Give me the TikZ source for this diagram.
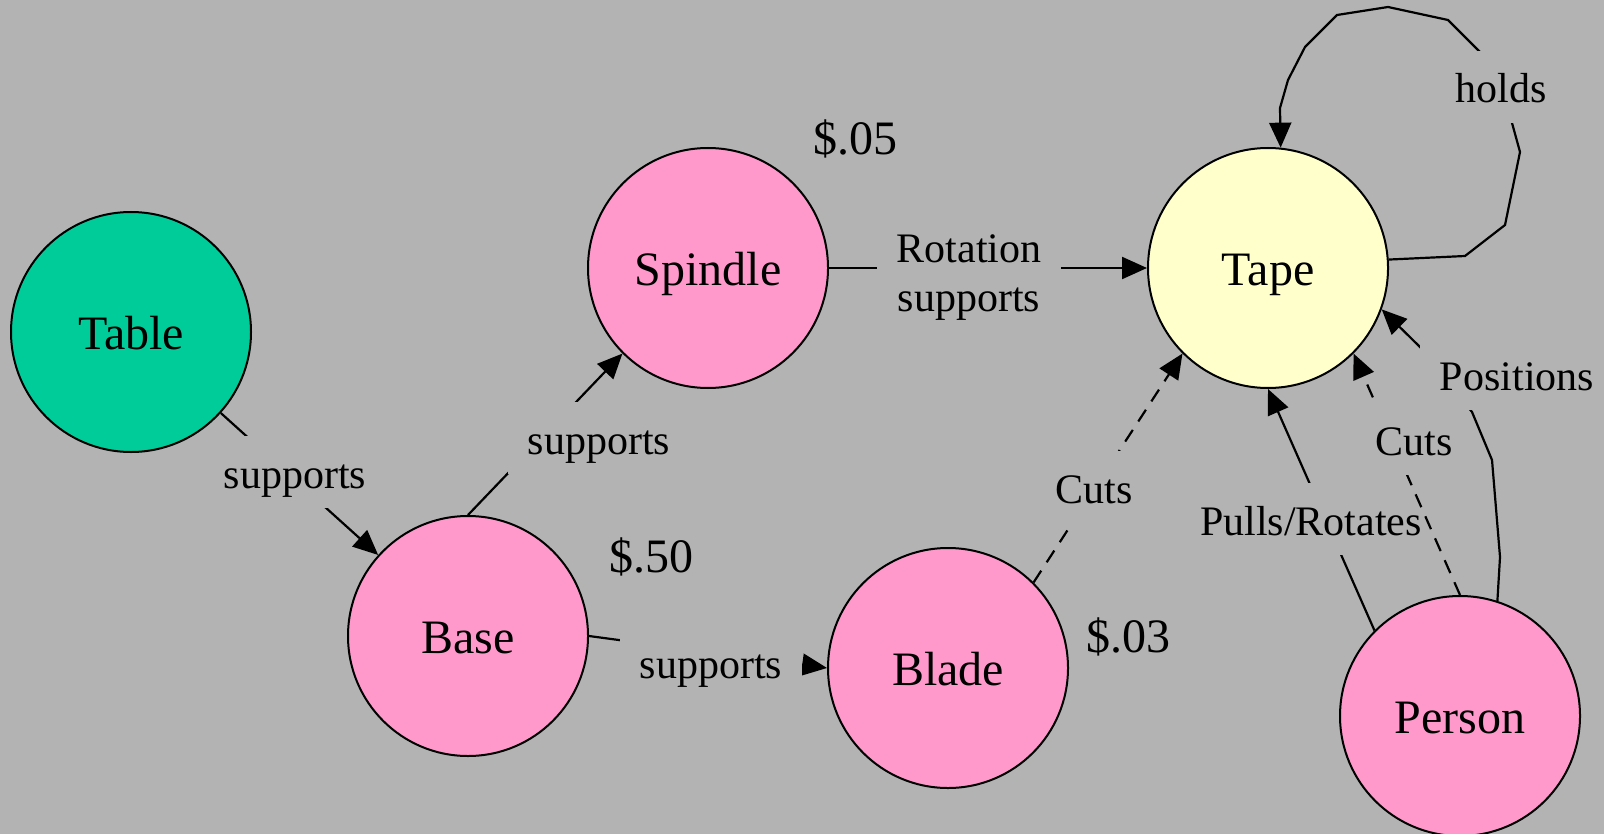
\documentclass[tikz,border=0pt]{standalone}
\usepackage{fontspec}
\setmainfont{Liberation Serif}
\usetikzlibrary{arrows.meta}
\definecolor{bgcol}{HTML}{B3B3B3}
\definecolor{tablecol}{HTML}{00CC99}
\definecolor{pinkcol}{HTML}{FF99CC}
\definecolor{tapecol}{HTML}{FFFFCC}
\begin{document}
\begin{tikzpicture}[x=0.5pt,y=-0.5pt,
  ent/.style={circle, draw=black, line width=1pt, minimum size=120pt, inner sep=0pt,
    font=\fontsize{24}{28}\selectfont, text height=17pt, text depth=0pt},
  edge/.style={line width=1.1pt, draw=black},
  arr/.style={-{Triangle[length=12.5pt,width=11pt]}},
  dsh/.style={dash pattern=on 7pt off 5pt},
  elabel/.style={fill=bgcol, inner xsep=10pt, inner ysep=5pt,
    font=\fontsize{21}{24.5}\selectfont, text height=21pt, text depth=5pt, anchor=base},
  cost/.style={font=\fontsize{24}{28}\selectfont, anchor=base}
]
\useasboundingbox (0,0) rectangle (1604,834);
\fill[bgcol] (0,0) rectangle (1604,834);

% entities
\node[ent, fill=tablecol] (table) at (131,332) {Table};
\node[ent, fill=pinkcol] (spindle) at (708,268) {Spindle};
\node[ent, fill=pinkcol] (base) at (468,636) {Base};
\node[ent, fill=pinkcol] (blade) at (948,668) {Blade};
\node[ent, fill=tapecol] (tape) at (1268,268) {Tape};
\node[ent, fill=pinkcol] (person) at (1460,716) {Person};

% costs
\node[cost] (c05) at (855,155) {\$.05};
\node[cost] (c50) at (651,572) {\$.50};
\node[cost] (c03) at (1128,652) {\$.03};

% bend points
\coordinate (q1) at (1500,557);
\coordinate (q2) at (1492,460);
\coordinate (q3) at (1472,412);
\coordinate (q4) at (1420,347);
\coordinate (h1) at (1465,256);
\coordinate (h2) at (1505,225);
\coordinate (h3) at (1520,152);
\coordinate (h4) at (1512,123);
\coordinate (h5) at (1480,52);
\coordinate (h6) at (1448,20);
\coordinate (h7) at (1388,7);
\coordinate (h8) at (1337,15);
\coordinate (h9) at (1305,47);
\coordinate (h10) at (1288,80);
\coordinate (h11) at (1280,108);

% connectors
\draw[edge,arr] (table) -- (base);
\draw[edge,arr] (base.north) -- (spindle.225);
\draw[edge,arr] (spindle) -- (tape);
\draw[edge,arr] (base.east) -- (blade.west);
\draw[edge,arr,dsh] (blade.45) -- (tape.225);
\draw[edge,arr] (person.135) -- (tape.south);
\draw[edge,arr] (person.72) -- (q1) -- (q2) -- (q3) -- (q4) -- (tape.340);
\draw[edge,arr] (tape.4) -- (h1) -- (h2) -- (h3) -- (h4) -- (h5) -- (h6) -- (h7)
  -- (h8) -- (h9) -- (h10) -- (h11) -- (tape.84);

% connector labels
\node[elabel] (l1) at (295,488) {supports};
\node[elabel] (l2) at (599,454) {supports};
\node[fill=bgcol, inner xsep=10pt, inner ysep=3pt, align=center,
  font=\fontsize{21}{24.5}\selectfont] (l3) at (969,278) {Rotation\\supports};
\node[elabel] (l4) at (711,678) {supports};
\node[elabel] (l5) at (1094,503) {Cuts};
\node[elabel] (l6) at (1311,535) {Pulls/Rotates};
\node[elabel] (l8) at (1517,390) {Positions};
\node[elabel] (l9) at (1501,103) {holds};

\draw[edge,arr,dsh] (person.north) -- (tape.315);
\node[elabel, inner xsep=3pt] (l7) at (1414,455) {Cuts};
\end{tikzpicture}
\end{document}
